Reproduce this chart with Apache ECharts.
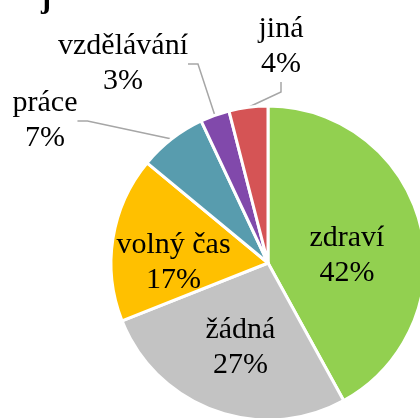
<!DOCTYPE html>
<html>
<head>
<meta charset="utf-8">
<script src="https://cdn.jsdelivr.net/npm/echarts@6/dist/echarts.min.js"></script>
<style>
html,body{margin:0;padding:0;background:#fff;}
#pie{width:420px;height:418px;}
</style>
</head>
<body>
<div id="pie"></div>
<script>
// oblasti
var names = ['zdraví', 'žádná', 'volný čas', 'práce', 'vzdělávání', 'jiná'];
var values = [42, 27, 17, 7, 3, 4];
var colors = ['#92D050', '#C3C3C3', '#FFC000', '#589CAE', '#8149AB', '#D55455'];
var inside = [true, true, true, false, false, false];

var myChart = echarts.init(document.getElementById('pie'));
var data1 = [];
for (var i = 0; i < names.length; i++) {
	data1.push({
		name: names[i],
		value: values[i],
		itemStyle: { color: colors[i] },
		label: { position: inside[i] ? 'inside' : 'outside' },
		labelLine: { show: !inside[i] }
	});
}

// umisteni vnejsich popisku (stred bloku)
var outPos = {
	3: { x: 45, y: 121 },
	4: { x: 123, y: 64 },
	5: { x: 281, y: 47 }
};
// posun vnitrnich popisku
var inShift = {
	0: { dx: 0, dy: 13 },
	1: { dx: 0, dy: 8 },
	2: { dx: -14, dy: 12 }
};

var option = {
	animation: false,
	title: {
		text: 'j',
		left: 36,
		top: -20,
		textStyle: { fontFamily: 'Liberation Serif', fontWeight: 'bold', fontSize: 30, color: '#000' }
	},
	series: [
		{
			name: 'oblasti',
			type: 'pie',
			center: [268, 263],
			radius: [0, 157],
			startAngle: 90,
			clockwise: true,
			data: data1,
			itemStyle: { borderColor: '#fff', borderWidth: 3 },
			label: {
				formatter: '{b}\n{c}%',
				fontFamily: 'Liberation Serif',
				fontSize: 30,
				lineHeight: 35,
				color: '#000',
				overflow: 'none',
				align: 'center'
			},
			labelLine: {
				length: 30,
				length2: 10,
				lineStyle: { color: '#A6A6A6', width: 1.5 }
			},
			labelLayout: function (p) {
				var o = outPos[p.dataIndex];
				if (o) {
					return { x: o.x, y: o.y, align: 'center', verticalAlign: 'middle' };
				}
				return inShift[p.dataIndex];
			}
		}
	]
};

myChart.setOption(option);
</script>
</body>
</html>
